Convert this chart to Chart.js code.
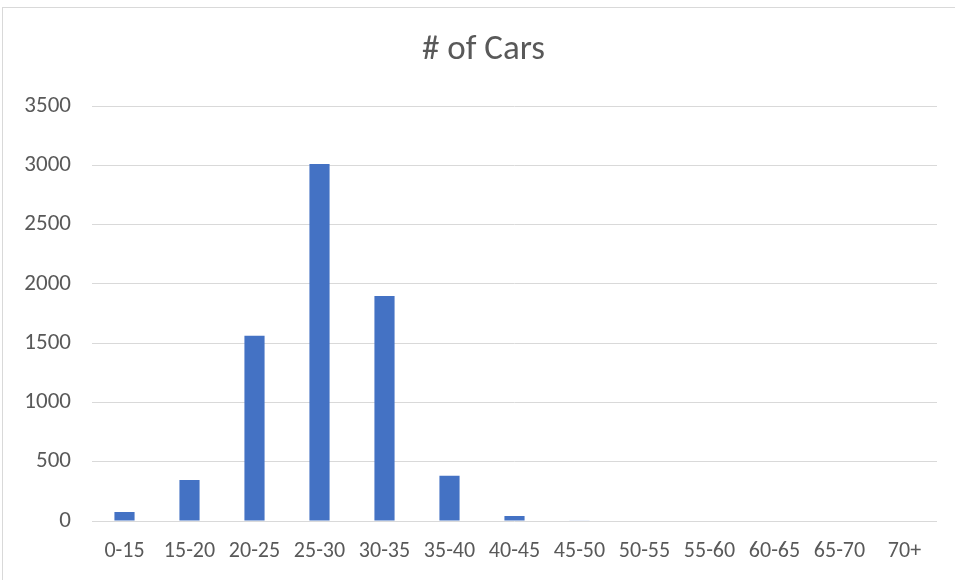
<!DOCTYPE html>
<html>
<head>
<meta charset="utf-8">
<script src="https://cdn.jsdelivr.net/npm/chart.js@4.4.0/dist/chart.umd.min.js"></script>
<style>
  html, body { margin: 0; padding: 0; background: #fff; overflow: hidden; }
  #frame {
    position: absolute; left: 2px; top: 7px;
    width: 1000px; height: 1000px;
    border: 1px solid #d9d9d9; box-sizing: border-box;
  }
  #wrap { position: absolute; left: 0; top: 0; width: 955px; height: 580px; }
</style>
</head>
<body>
<div id="frame"></div>
<div id="wrap"><canvas id="carsChart"></canvas></div>
<script>
const categories = ['0-15', '15-20', '20-25', '25-30', '30-35', '35-40', '40-45', '45-50', '50-55', '55-60', '60-65', '65-70', '70+'];
const carCounts = [76, 346, 1562, 3010, 1898, 382, 42, 5, 0, 0, 0, 0, 0];
const yTicks = [0, 500, 1000, 1500, 2000, 2500, 3000, 3500];

const fontFamily = "'Carlito', 'Liberation Sans Narrow', 'Noto Sans', sans-serif";
const textColor = '#595959';

// nudge the title a bit right, the original centres it on the whole frame
const titleShift = {
    id: 'titleShift',
    afterLayout(chart) {
        if (chart.titleBlock) {
            chart.titleBlock.left += 15
            chart.titleBlock.right += 15
        }
    }
}

const ctx = document.getElementById('carsChart').getContext('2d');

const carsChart = new Chart(ctx, {
    type: 'bar',
    data: {
        labels: categories,
        datasets: [{
            label: '# of Cars',
            data: carCounts,
            backgroundColor: '#4472c4',
            borderWidth: 0,
            barPercentage: 0.31,
            categoryPercentage: 1,
        }]
    },
    plugins: [titleShift],
    options: {
        responsive: true,
        maintainAspectRatio: false,
        animation: false,
        layout: {
            padding: { left: 0, right: 18, top: 0, bottom: 0 }
        },
        plugins: {
            legend: { display: false },
            tooltip: { enabled: false },
            title: {
                display: true,
                text: '# of Cars',
                color: textColor,
                font: { family: fontFamily, size: 35, weight: 'normal' },
                padding: { top: 29, bottom: 35 }
            }
        },
        scales: {
            x: {
                grid: { display: false, drawTicks: false },
                border: { display: false },
                ticks: {
                    color: textColor,
                    font: { family: fontFamily, size: 22 },
                    padding: 17,
                    maxRotation: 0,
                    autoSkip: false
                },
                afterFit: (scale) => { scale.height = 59 }
            },
            y: {
                min: 0,
                max: 3500,
                afterBuildTicks: (scale) => {
                    scale.ticks = yTicks.map(v => ({ value: v }))
                },
                grid: { color: '#d9d9d9', lineWidth: 1, drawTicks: false },
                border: { display: false },
                ticks: {
                    color: textColor,
                    font: { family: fontFamily, size: 23 },
                    padding: 21,
                    callback: (v) => String(v)
                },
                afterFit: (scale) => { scale.width = 92 }
            }
        }
    }
})
</script>
</body>
</html>
